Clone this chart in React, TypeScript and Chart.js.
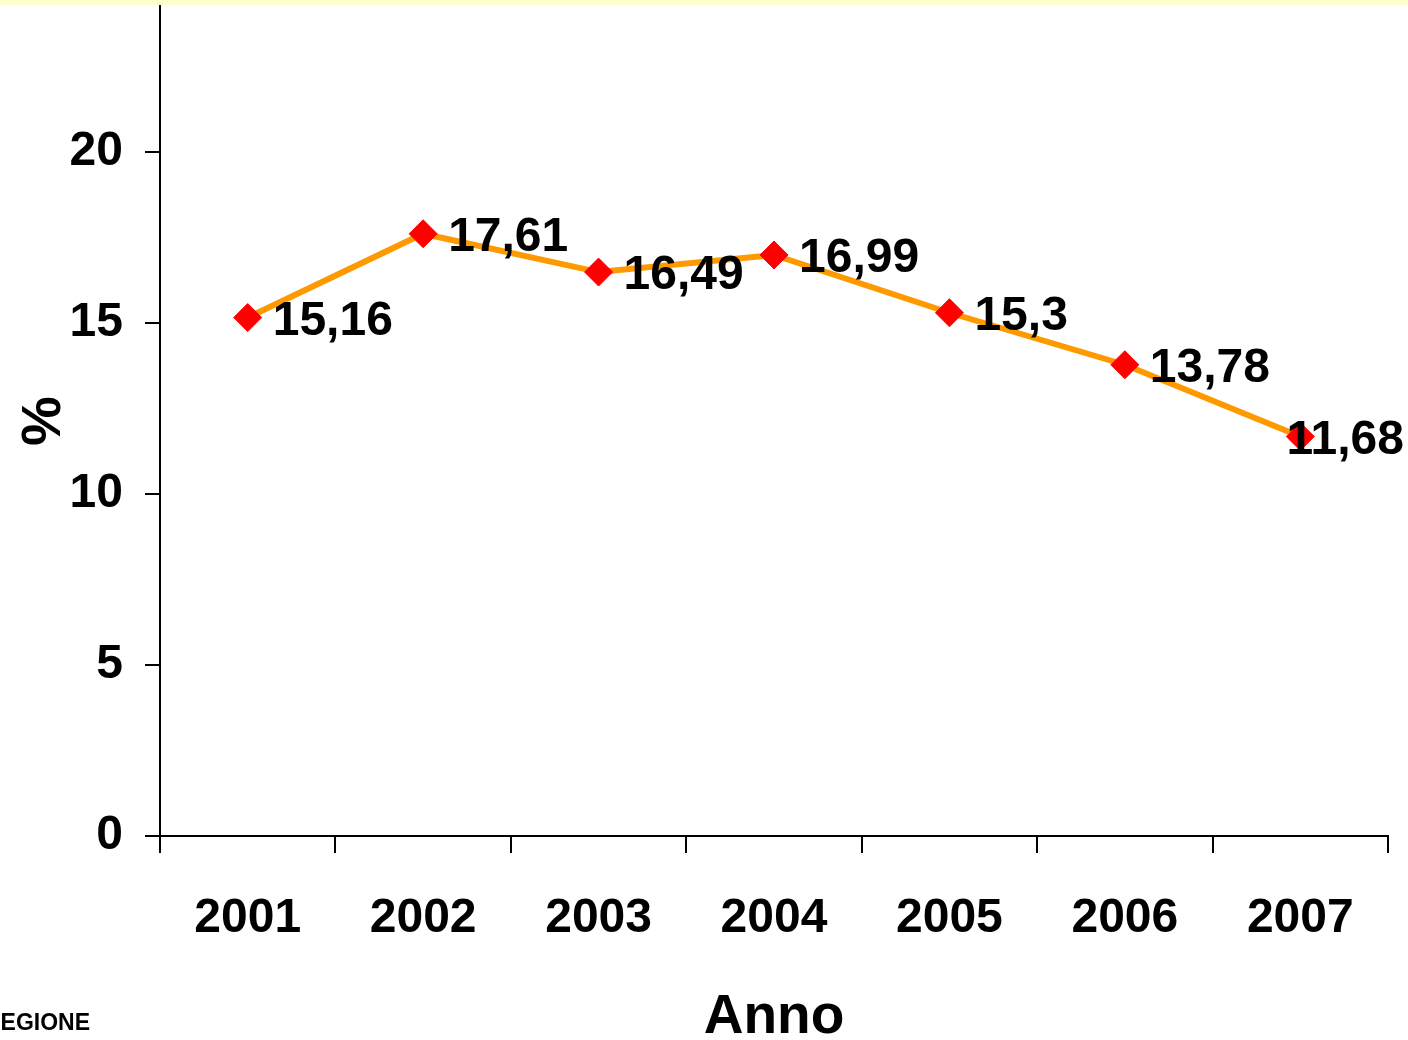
import React, { useEffect, useRef } from "react";
import { Chart, registerables } from "chart.js";

Chart.register(...registerables);

const categories = ["2001", "2002", "2003", "2004", "2005", "2006", "2007"];
const values = [15.16, 17.61, 16.49, 16.99, 15.3, 13.78, 11.68];
const valueLabels = ["15,16", "17,61", "16,49", "16,99", "15,3", "13,78", "11,68"];
const yTicks = [0, 5, 10, 15, 20];

const FAMILY = "'Liberation Sans', Arial, Helvetica, sans-serif";

const labelPlugin = {
  id: "pointLabels",
  afterDatasetsDraw(chart: any) {
    const ctx = chart.ctx;
    const meta = chart.getDatasetMeta(0);
    ctx.save();
    ctx.font = `bold 48px ${FAMILY}`;
    ctx.fillStyle = "#000";
    ctx.textAlign = "left";
    ctx.textBaseline = "middle";
    meta.data.forEach((pt: any, i: number) => {
      const txt = valueLabels[i];
      const w = ctx.measureText(txt).width;
      let x = pt.x + 25;
      if (x + w > chart.width - 4) x = chart.width - 4 - w;
      ctx.fillText(txt, x, pt.y + 4);
    });
    ctx.restore();
  },
};

export default function App() {
  const ref = useRef<HTMLCanvasElement | null>(null);

  useEffect(() => {
    if (!ref.current) return;
    const chart = new Chart(ref.current, {
      type: "line",
      data: {
        labels: categories,
        datasets: [
          {
            data: values,
            borderColor: "#FF9900",
            borderWidth: 6,
            pointStyle: "rectRot",
            pointRadius: 14,
            pointHoverRadius: 14,
            pointBackgroundColor: "#FF0000",
            pointBorderColor: "#FF0000",
            pointBorderWidth: 1,
            tension: 0,
            fill: false,
            clip: false,
          },
        ],
      },
      options: {
        animation: false,
        responsive: false,
        maintainAspectRatio: false,
        events: [],
        layout: { autoPadding: false, padding: { top: 6, right: 20, left: 0, bottom: 0 } },
        plugins: {
          legend: { display: false },
          tooltip: { enabled: false },
          title: { display: false },
        },
        scales: {
          x: {
            type: "category",
            offset: true,
            grid: {
              offset: true,
              drawOnChartArea: false,
              drawTicks: true,
              tickLength: 17,
              color: "#000",
              lineWidth: 2,
            },
            border: { display: true, color: "#000", width: 2 },
            ticks: {
              color: "#000",
              padding: 37,
              font: { family: FAMILY, weight: "bold", size: 48 },
              maxRotation: 0,
              autoSkip: false,
            },
            title: {
              display: true,
              text: "Anno",
              color: "#000",
              font: { family: FAMILY, weight: "bold", size: 55, lineHeight: 0.8 },
              padding: { top: 0, bottom: 0 },
            },
            afterFit: (scale: any) => {
              scale.height = 204;
              scale.paddingLeft = 0;
              scale.paddingRight = 0;
            },
          },
          y: {
            min: 0,
            max: 24.27,
            grid: {
              drawOnChartArea: false,
              drawTicks: true,
              tickLength: 15,
              color: "#000",
              lineWidth: 2,
            },
            border: { display: true, color: "#000", width: 2 },
            ticks: {
              stepSize: 5,
              color: "#000",
              padding: 22,
              font: { family: FAMILY, weight: "bold", size: 48 },
            },
            afterBuildTicks: (axis: any) => {
              axis.ticks = yTicks.map((v) => ({ value: v }));
            },
            title: {
              display: true,
              text: "%",
              color: "#000",
              font: { family: FAMILY, weight: "bold", size: 56, lineHeight: 1 },
              padding: { top: 17, bottom: 0 },
            },
            afterFit: (scale: any) => {
              scale.width = 160;
              scale.paddingTop = 0;
              scale.paddingBottom = 0;
            },
          },
        },
      },
      plugins: [labelPlugin],
    } as any);
    return () => chart.destroy();
  }, []);

  return (
    <div style={{ position: "fixed", left: 0, top: 0, width: 1408, height: 1040, background: "#fff", overflow: "hidden" }}>
      <canvas ref={ref} width={1408} height={1040} style={{ position: "absolute", left: 0, top: 0, width: 1408, height: 1040 }} />
      <div style={{ position: "absolute", left: 0, top: 0, width: 1408, height: 5, background: "#FFFFCC" }} />
      <div
        style={{
          position: "absolute",
          left: -16,
          top: 1006,
          fontFamily: FAMILY,
          fontWeight: "bold",
          fontSize: 23,
          lineHeight: "32px",
          color: "#000",
          whiteSpace: "nowrap",
        }}
      >
        REGIONE
      </div>
    </div>
  );
}
